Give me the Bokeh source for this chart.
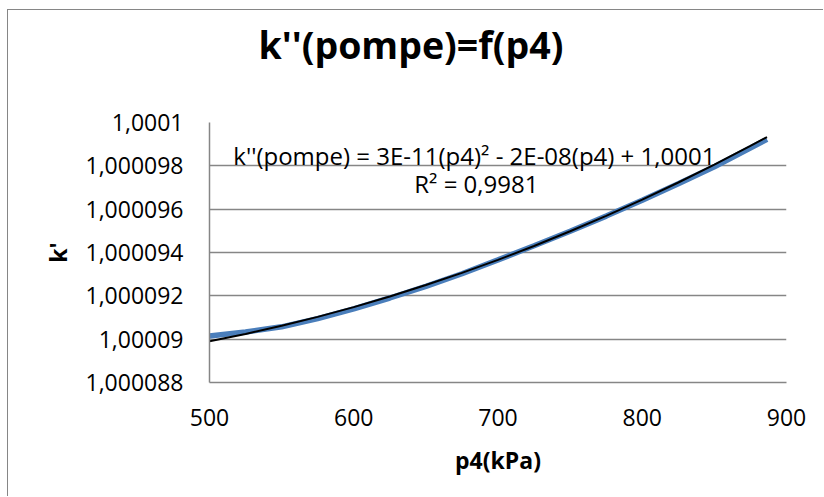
from bokeh.plotting import figure
from bokeh.models import Range1d, FixedTicker, CustomJSTickFormatter, Label, ColumnDataSource, Title
from bokeh.embed import file_html
from bokeh.resources import INLINE

# ---- texts ----
title_text = "k''(pompe)=f(p4)"
x_axis_title = "p4(kPa)"
y_axis_title = "k'"
equation_text = "k''(pompe) = 3E-11(p4)² - 2E-08(p4) + 1,0001"
r2_text = "R² = 0,9981"

# ---- data series ----
p4 = [500, 525, 550, 575, 600, 625, 650, 675, 700, 725, 750, 775, 800, 825, 850, 886.5]
k_pompe = [1.00009015, 1.00009033, 1.00009057, 1.00009095, 1.00009140, 1.00009190,
           1.00009244, 1.00009302, 1.00009366, 1.00009431, 1.00009498, 1.00009568,
           1.00009641, 1.00009717, 1.00009796, 1.00009922]

# polynomial trendline (black)
trend_p4 = [500, 525, 550, 575, 600, 625, 650, 675, 700, 725, 750, 775, 800, 825, 850, 875, 886.5]
trend_k = [1.00008990, 1.00009024, 1.00009062, 1.00009103, 1.00009148, 1.00009197,
           1.00009250, 1.00009306, 1.00009366, 1.00009430, 1.00009498, 1.00009569,
           1.00009644, 1.00009723, 1.00009806, 1.00009892, 1.00009933]

# ---- axes ----
x_ticks = [500, 600, 700, 800, 900]
x_tick_labels = ["500", "600", "700", "800", "900"]
y_ticks = [1.000088, 1.00009, 1.000092, 1.000094, 1.000096, 1.000098, 1.0001]
y_tick_labels = ["1,000088", "1,00009", "1,000092", "1,000094", "1,000096", "1,000098", "1,0001"]

FONT = "Open Sans"
GRID = "#868686"

p = figure(width=816, height=487, output_backend="svg", toolbar_location=None,
           x_range=Range1d(x_ticks[0], x_ticks[-1]), y_range=Range1d(y_ticks[0], y_ticks[-1]),
           min_border_left=201, min_border_right=38, min_border_top=112, min_border_bottom=115)
p.styles = {"margin-left": "7px", "margin-top": "9px",
            "border-top": "1px solid #868686", "border-left": "1px solid #868686"}
p.background_fill_color = "white"
p.border_fill_color = "white"
p.outline_line_color = None

# spacer panel between plot area and chart title (first added = nearest the plot area)
p.add_layout(Title(text=" ", text_font_size="1px", standoff=47), "above")
p.add_layout(Title(text=title_text, align="left", offset=49, standoff=6,
                   text_font=FONT, text_font_style="bold", text_font_size="37.5px",
                   text_color="black"), "above")

fmt_code = """
let best = 0;
for (let i = 0; i < tvals.length; i++) {
  if (Math.abs(tvals[i] - tick) < Math.abs(tvals[best] - tick)) best = i;
}
return tlabels[best];
"""
p.xaxis.ticker = FixedTicker(ticks=x_ticks)
p.xaxis.formatter = CustomJSTickFormatter(args=dict(tvals=x_ticks, tlabels=x_tick_labels), code=fmt_code)
p.yaxis.ticker = FixedTicker(ticks=y_ticks)
p.yaxis.formatter = CustomJSTickFormatter(args=dict(tvals=y_ticks, tlabels=y_tick_labels), code=fmt_code)

for ax in (p.xaxis[0], p.yaxis[0]):
    ax.axis_line_color = GRID
    ax.axis_line_width = 1.5
    ax.major_tick_in = 0
    ax.major_tick_out = 0
    ax.minor_tick_in = 0
    ax.minor_tick_out = 0
    ax.major_label_text_font = FONT
    ax.major_label_text_font_size = "23px"
    ax.major_label_text_color = "black"
    ax.axis_label_text_font = FONT
    ax.axis_label_text_font_style = "bold"
    ax.axis_label_text_font_size = "23px"
    ax.axis_label_text_color = "black"

p.xaxis.axis_label = x_axis_title
p.yaxis.axis_label = y_axis_title
p.xaxis.major_label_standoff = 26
p.yaxis.major_label_standoff = 26
p.xaxis.axis_label_standoff = 15
p.yaxis.axis_label_standoff = 8

p.xgrid.grid_line_color = None
p.ygrid.grid_line_color = GRID
p.ygrid.grid_line_width = 1.5

data_src = ColumnDataSource(dict(x=p4, y=k_pompe))
trend_src = ColumnDataSource(dict(x=trend_p4, y=trend_k))
p.line("x", "y", source=data_src, line_color="#4A7EBB", line_width=5.5)
p.line("x", "y", source=trend_src, line_color="black", line_width=2)

p.add_layout(Label(x=683.6, y=1.0000985, text=equation_text,
                   text_font=FONT, text_font_size="24px",
                   text_align="center", text_baseline="middle", text_color="black"))
p.add_layout(Label(x=685, y=1.0000972, text=r2_text,
                   text_font=FONT, text_font_size="24px",
                   text_align="center", text_baseline="middle", text_color="black"))

open("out.html", "w").write(file_html(p, INLINE))
